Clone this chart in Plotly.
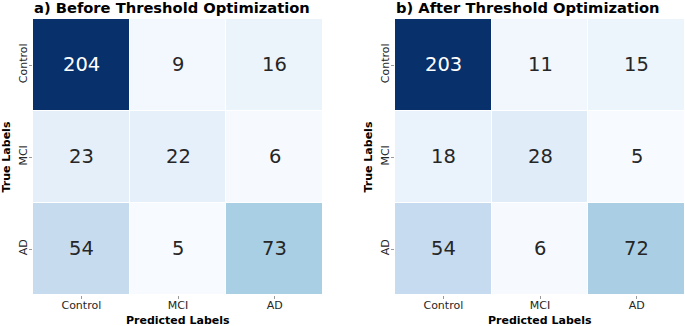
import plotly.graph_objects as go

labels = ["Control", "MCI", "AD"]
before = [[204, 9, 16], [23, 22, 6], [54, 5, 73]]
after = [[203, 11, 15], [18, 28, 5], [54, 6, 72]]
titles = ["a) Before Threshold Optimization", "b) After Threshold Optimization"]
xlabel = "Predicted Labels"
ylabel = "True Labels"

W, H = 685, 326
blues = [[0, 'rgb(247,251,255)'], [0.125, 'rgb(222,235,247)'], [0.25, 'rgb(198,219,239)'],
         [0.375, 'rgb(158,202,225)'], [0.5, 'rgb(107,174,214)'], [0.625, 'rgb(66,146,198)'],
         [0.75, 'rgb(33,113,181)'], [0.875, 'rgb(8,81,156)'], [1, 'rgb(8,48,107)']]

FONT = "DejaVu Sans"
panels = [(33, 323), (395, 685)]
title_cx = [171.5, 527.5]
ylab_x = [5.5, 367.5]
top_px, bot_px = 19, 295

fig = go.Figure()
annotations = []


def rel_lum(rgb):
    def ch(c):
        c = c / 255
        return c / 12.92 if c <= 0.03928 else ((c + 0.055) / 1.055) ** 2.4
    r, g, b = rgb
    return 0.2126 * ch(r) + 0.7152 * ch(g) + 0.0722 * ch(b)


def interp(t):
    for i in range(len(blues) - 1):
        t0, c0 = blues[i]
        t1, c1 = blues[i + 1]
        if t0 <= t <= t1:
            a = [float(v) for v in c0[4:-1].split(',')]
            b = [float(v) for v in c1[4:-1].split(',')]
            f = (t - t0) / (t1 - t0) if t1 > t0 else 0
            return [a[k] + (b[k] - a[k]) * f for k in range(3)]
    return [8, 48, 107]


for i, mat in enumerate([before, after]):
    xa = 'x' if i == 0 else 'x2'
    ya = 'y' if i == 0 else 'y2'
    zmin = min(min(r) for r in mat)
    zmax = max(max(r) for r in mat)
    fig.add_trace(go.Heatmap(
        z=mat, x=labels, y=labels, colorscale=blues, zmin=zmin, zmax=zmax,
        showscale=False, xgap=1, ygap=1, xaxis=xa, yaxis=ya, hoverinfo='skip'))
    for r, row in enumerate(mat):
        for c, v in enumerate(row):
            t = (v - zmin) / (zmax - zmin)
            col = 'white' if rel_lum(interp(t)) < 0.408 else '#262626'
            annotations.append(dict(x=labels[c], y=labels[r], xref=xa, yref=ya,
                                    text=str(v), showarrow=False, yshift=1,
                                    font=dict(family=FONT, size=19.5, color=col)))
    x0, x1 = panels[i]
    annotations.append(dict(x=title_cx[i] / W, y=1 - 8 / H, xref='paper', yref='paper',
                            text="<b>%s</b>" % titles[i], showarrow=False,
                            xanchor='center', yanchor='middle',
                            font=dict(family=FONT, size=14.7, color='black')))
    annotations.append(dict(x=(x0 + x1) / 2 / W, y=1 - 320.5 / H, xref='paper', yref='paper',
                            text="<b>%s</b>" % xlabel, showarrow=False,
                            xanchor='center', yanchor='middle',
                            font=dict(family=FONT, size=11, color='black')))
    annotations.append(dict(x=ylab_x[i] / W, y=1 - (top_px + bot_px) / 2 / H, xref='paper', yref='paper',
                            text="<b>%s</b>" % ylabel, showarrow=False, textangle=-90,
                            xanchor='center', yanchor='middle',
                            font=dict(family=FONT, size=11, color='black')))

axis_common = dict(showgrid=False, zeroline=False, showline=False, ticks='outside',
                   ticklen=3, tickwidth=1, tickcolor='#999', automargin=False,
                   tickfont=dict(family=FONT, size=11, color='#262626'))

layout = dict(width=W, height=H, margin=dict(l=0, r=0, t=0, b=0, autoexpand=False),
              paper_bgcolor='white', plot_bgcolor='white', showlegend=False,
              annotations=annotations, template='none')
for i in range(2):
    x0, x1 = panels[i]
    sx = '' if i == 0 else '2'
    layout['xaxis' + sx] = dict(domain=[x0 / W, x1 / W], anchor='y' + sx,
                                ticklabelstandoff=-3, **axis_common)
    layout['yaxis' + sx] = dict(domain=[1 - bot_px / H, 1 - top_px / H], anchor='x' + sx,
                                autorange='reversed', tickangle=-90,
                                ticklabelstandoff=-2, **axis_common)
fig.update_layout(**layout)
fig.write_html("out.html", config={'displayModeBar': False},
               post_script="document.body.style.margin='0';document.body.style.padding='0';")
